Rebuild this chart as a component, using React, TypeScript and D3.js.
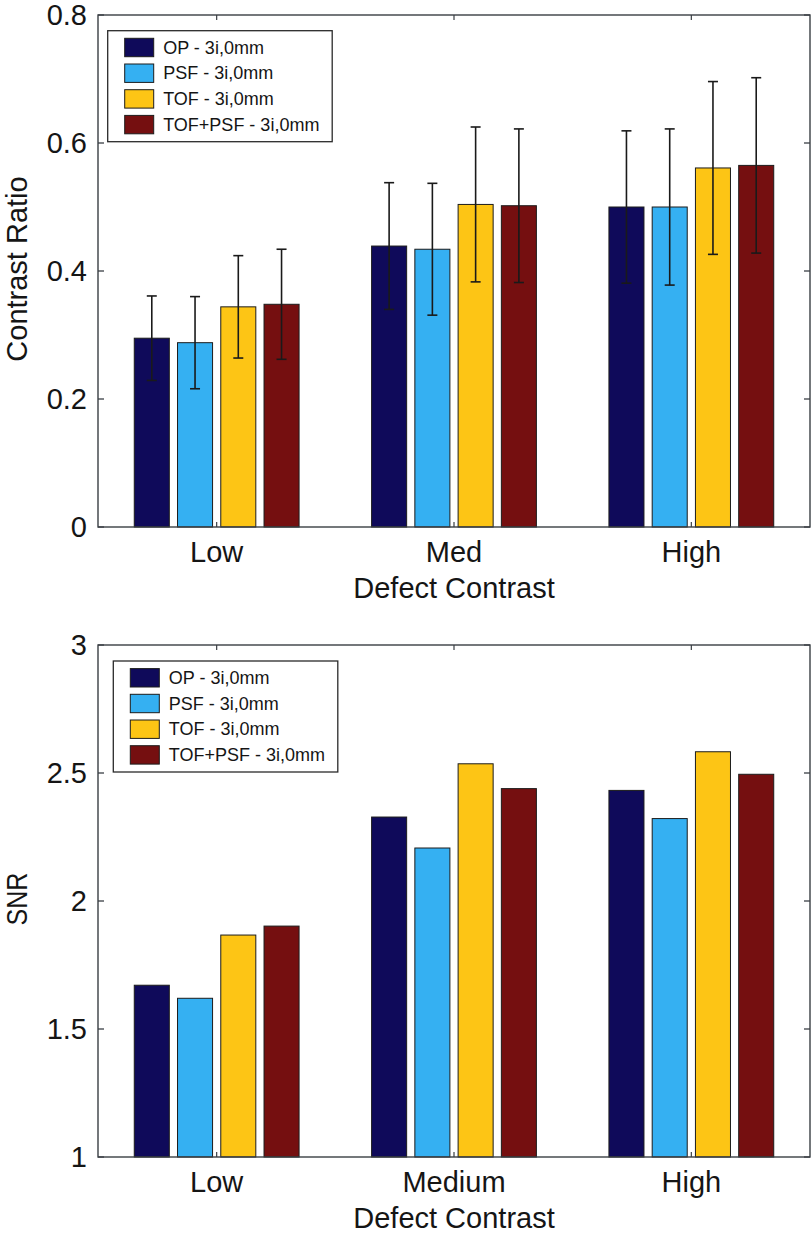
import React from "react";
import * as d3 from "d3";

const categoriesTop = ["Low", "Med", "High"];
const categoriesBottom = ["Low", "Medium", "High"];
const seriesNames = ["OP - 3i,0mm", "PSF - 3i,0mm", "TOF - 3i,0mm", "TOF+PSF - 3i,0mm"];
const seriesColors = ["#0f0a5a", "#35b0f2", "#fdc515", "#750f10"];

const contrastOP = [0.295, 0.439, 0.5];
const contrastPSF = [0.288, 0.434, 0.5];
const contrastTOF = [0.344, 0.504, 0.561];
const contrastTOFPSF = [0.348, 0.502, 0.565];

const errOP = [0.066, 0.099, 0.119];
const errPSF = [0.072, 0.103, 0.122];
const errTOF = [0.08, 0.121, 0.135];
const errTOFPSF = [0.086, 0.12, 0.137];

const snrOP = [1.671, 2.328, 2.432];
const snrPSF = [1.62, 2.207, 2.322];
const snrTOF = [1.867, 2.536, 2.583];
const snrTOFPSF = [1.902, 2.439, 2.495];

const topTicks = [0, 0.2, 0.4, 0.6, 0.8];
const bottomTicks = [1, 1.5, 2, 2.5, 3];

const FONT = "'Liberation Sans', Arial, Helvetica, sans-serif";
const TEXT = "#151515";
const AXIS = "#3a3f44";

type PanelProps = {
  categories: string[];
  values: number[][];
  errors?: number[][];
  domain: [number, number];
  ticks: number[];
  tickFmt: (v: number) => string;
  top: number;
  bottom: number;
  yLabel: string;
  yLabelLen?: number;
  legendX: number;
  legendY: number;
};

function Panel(p: PanelProps) {
  const left = 98;
  const right = 810;
  const x = d3.scaleBand<string>().domain(p.categories).range([left, right]).paddingInner(0).paddingOuter(0);
  const groupW = x.bandwidth() * 0.729;
  const xs = d3
    .scaleBand<string>()
    .domain(seriesNames)
    .range([-groupW / 2, groupW / 2])
    .paddingInner(0.19)
    .paddingOuter(0.095);
  const y = d3.scaleLinear().domain(p.domain).range([p.bottom, p.top]);
  const base = p.domain[0];

  const bars: React.ReactNode[] = [];
  const errs: React.ReactNode[] = [];
  p.categories.forEach((c, ci) => {
    seriesNames.forEach((s, si) => {
      const v = p.values[si][ci];
      const bx = (x(c) as number) + x.bandwidth() / 2 + (xs(s) as number);
      const bw = xs.bandwidth();
      bars.push(
        <rect
          key={`b-${ci}-${si}`}
          x={bx}
          y={y(v)}
          width={bw}
          height={y(base) - y(v)}
          fill={seriesColors[si]}
          stroke="#1c1c1c"
          strokeWidth={1}
        />
      );
      if (p.errors) {
        const e = p.errors[si][ci];
        const cx = bx + bw / 2;
        const y1 = y(v + e);
        const y0 = y(v - e);
        errs.push(
          <g key={`e-${ci}-${si}`} stroke="#1a1a1a" strokeWidth={1.6}>
            <line x1={cx} x2={cx} y1={y1} y2={y0} />
            <line x1={cx - 5} x2={cx + 5} y1={y1} y2={y1} />
            <line x1={cx - 5} x2={cx + 5} y1={y0} y2={y0} />
          </g>
        );
      }
    });
  });

  const midY = (p.top + p.bottom) / 2;
  const pitch = 25.7;

  return (
    <g>
      {bars}
      {errs}
      {/* legend */}
      <g>
        <rect
          x={p.legendX}
          y={p.legendY}
          width={224.5}
          height={111}
          fill="#ffffff"
          stroke="#2a2a2a"
          strokeWidth={1.3}
        />
        {seriesNames.map((s, i) => {
          const cy = p.legendY + 16.8 + i * pitch;
          return (
            <g key={s}>
              <rect
                x={p.legendX + 17}
                y={cy - 9.2}
                width={29}
                height={18.4}
                fill={seriesColors[i]}
                stroke="#1c1c1c"
                strokeWidth={1}
              />
              <text
                x={p.legendX + 55.5}
                y={cy}
                dominantBaseline="central"
                fontFamily={FONT}
                fontSize={18}
                fill={TEXT}
              >
                {s}
              </text>
            </g>
          );
        })}
      </g>
      {/* axes box */}
      <rect
        x={left}
        y={p.top}
        width={right - left}
        height={p.bottom - p.top}
        fill="none"
        stroke={AXIS}
        strokeWidth={1.4}
      />
      {p.ticks.map((t) => (
        <g key={`t-${t}`}>
          <line x1={left} x2={left + 6} y1={y(t)} y2={y(t)} stroke={AXIS} strokeWidth={1.3} />
          <line x1={right - 6} x2={right} y1={y(t)} y2={y(t)} stroke={AXIS} strokeWidth={1.3} />
          <text
            x={87}
            y={y(t)}
            textAnchor="end"
            dominantBaseline="central"
            fontFamily={FONT}
            fontSize={29}
            fill={TEXT}
          >
            {p.tickFmt(t)}
          </text>
        </g>
      ))}
      {p.categories.map((c) => {
        const cx = (x(c) as number) + x.bandwidth() / 2;
        return (
          <g key={`c-${c}`}>
            <line x1={cx} x2={cx} y1={p.bottom} y2={p.bottom - 5} stroke={AXIS} strokeWidth={1.2} />
            <line x1={cx} x2={cx} y1={p.top} y2={p.top + 5} stroke={AXIS} strokeWidth={1.2} />
            <text
              x={cx}
              y={p.bottom + 34.7}
              textAnchor="middle"
              fontFamily={FONT}
              fontSize={29}
              fill={TEXT}
            >
              {c}
            </text>
          </g>
        );
      })}
      <text
        x={(left + right) / 2}
        y={p.bottom + 70.7}
        textAnchor="middle"
        fontFamily={FONT}
        fontSize={29}
        fill={TEXT}
      >
        Defect Contrast
      </text>
      <text
        transform={`translate(27, ${midY - 2}) rotate(-90)`}
        textAnchor="middle"
        fontFamily={FONT}
        fontSize={29}
        fill={TEXT}
        {...(p.yLabelLen ? { textLength: p.yLabelLen, lengthAdjust: "spacingAndGlyphs" } : {})}
      >
        {p.yLabel}
      </text>
    </g>
  );
}

export default function App() {
  const contrastVals = [contrastOP, contrastPSF, contrastTOF, contrastTOFPSF];
  const contrastErr = [errOP, errPSF, errTOF, errTOFPSF];
  const snrVals = [snrOP, snrPSF, snrTOF, snrTOFPSF];
  const fmt = (v: number) => (v === 0 ? "0" : d3.format("~g")(v));
  return (
    <svg
      width={812}
      height={1236}
      style={{ position: "absolute", left: 0, top: 0, background: "#ffffff" }}
    >
      <rect x={0} y={0} width={812} height={1236} fill="#ffffff" />
      <Panel
        categories={categoriesTop}
        values={contrastVals}
        errors={contrastErr}
        domain={[0, 0.8]}
        ticks={topTicks}
        tickFmt={fmt}
        top={15}
        bottom={527}
        yLabel="Contrast Ratio"
        legendX={107.7}
        legendY={30.7}
      />
      <Panel
        categories={categoriesBottom}
        values={snrVals}
        domain={[1, 3]}
        ticks={bottomTicks}
        tickFmt={fmt}
        top={645}
        bottom={1157}
        yLabel="SNR"
        yLabelLen={53}
        legendX={113.3}
        legendY={661}
      />
    </svg>
  );
}
